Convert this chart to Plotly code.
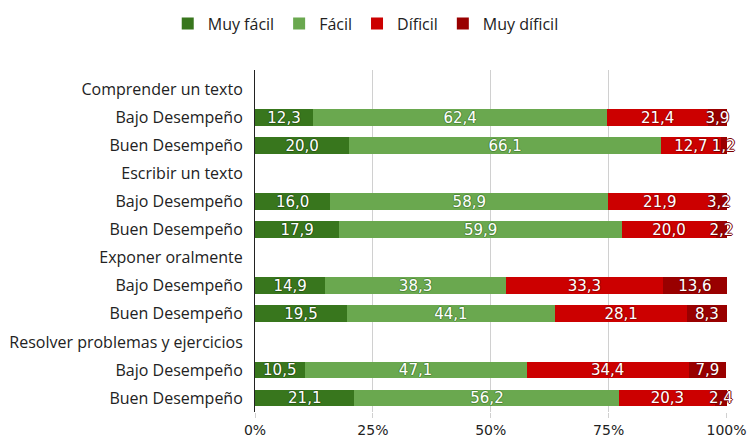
import plotly.graph_objects as go

row_labels = ["Comprender un texto", "Bajo Desempeño", "Buen Desempeño",
              "Escribir un texto", "Bajo Desempeño", "Buen Desempeño",
              "Exponer oralmente", "Bajo Desempeño", "Buen Desempeño",
              "Resolver problemas y ejercicios", "Bajo Desempeño", "Buen Desempeño"]
bar_rows = [1, 2, 4, 5, 7, 8, 10, 11]

series_names = ["Muy fácil", "Fácil", "Díficil", "Muy díficil"]
muy_facil = [12.3, 20.0, 16.0, 17.9, 14.9, 19.5, 10.5, 21.1]
facil = [62.4, 66.1, 58.9, 59.9, 38.3, 44.1, 47.1, 56.2]
dificil = [21.4, 12.7, 21.9, 20.0, 33.3, 28.1, 34.4, 20.3]
muy_dificil = [3.9, 1.2, 3.2, 2.2, 13.6, 8.3, 7.9, 2.4]

tick_vals = [0, 25, 50, 75, 100]
tick_text = ["0%", "25%", "50%", "75%", "100%"]

colors = ["#38761d", "#6aa84f", "#cc0000", "#990000"]
outline = ["#2a5a16", "#4f8a3a", "#a00000", "#7a0000"]


def halo(c):
    return ", ".join(f"{dx}px {dy}px 0 {c}" for dx, dy in [(-1, 0), (1, 0), (0, -1), (0, 1)])


fig = go.Figure()
for name, vals, c, oc in zip(series_names, [muy_facil, facil, dificil, muy_dificil], colors, outline):
    fig.add_trace(go.Bar(
        name=name, x=vals, y=bar_rows, orientation="h",
        marker=dict(color=c, line=dict(width=0)),
        width=0.6, cliponaxis=False,
        texttemplate="%{x:.1f}", textposition="inside", insidetextanchor="middle",
        textangle=0, constraintext="none",
        textfont=dict(color="white", family="DejaVu Sans", size=15, shadow=halo(oc)),
        hoverinfo="skip",
    ))

fig.update_layout(
    barmode="stack",
    width=751, height=444,
    margin=dict(l=255, r=24, t=70, b=32, autoexpand=False),
    paper_bgcolor="white", plot_bgcolor="white",
    separators=", ",
    uniformtext=dict(minsize=15, mode="show"),
    showlegend=True,
    legend=dict(orientation="h", x=0.487, xref="container", xanchor="center",
                y=0.985, yref="container", yanchor="top",
                font=dict(family="Open Sans", size=16, color="#222"),
                traceorder="normal"),
)
fig.update_xaxes(range=[0, 100.1], tickvals=tick_vals, ticktext=tick_text,
                 showgrid=True, gridcolor="#d0d0d0", gridwidth=1,
                 zeroline=False, showline=False, automargin=False,
                 ticks="outside", ticklen=5, tickcolor="#d0d0d0",
                 tickfont=dict(family="DejaVu Sans", size=14, color="#222"))
fig.update_yaxes(range=[11.5, -0.7], tickvals=list(range(12)), ticktext=row_labels,
                 showgrid=False, zeroline=False, showline=True, linecolor="#222", linewidth=1,
                 ticks="", ticklabelstandoff=8, automargin=False,
                 tickfont=dict(family="Open Sans", size=16, color="#222"))

fig.write_html("out.html", config={"displayModeBar": False},
               post_script="document.body.style.margin='0';document.body.style.overflow='hidden';")
